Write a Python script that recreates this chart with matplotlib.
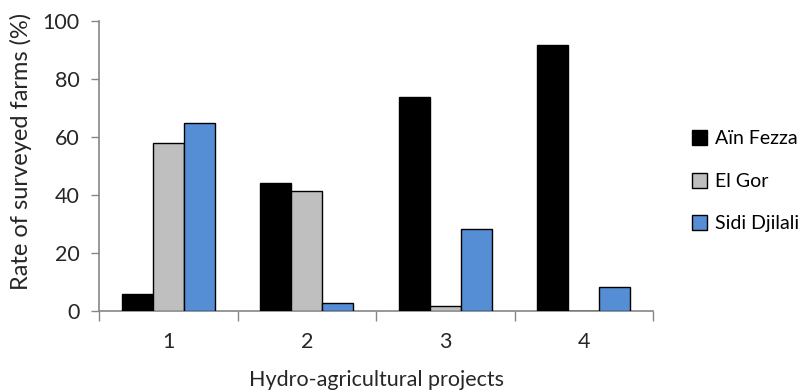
import matplotlib
matplotlib.use("Agg")
import matplotlib.pyplot as plt
from matplotlib.patches import Patch
import numpy as np

plt.rcParams['font.family'] = ['Lato', 'DejaVu Sans']

projects = ["1", "2", "3", "4"]
series_names = ["Aïn Fezza", "El Gor", "Sidi Djilali"]
ain_fezza = [6.0, 44.3, 73.8, 91.6]
el_gor = [58.1, 41.6, 1.8, 0.0]
sidi_djilali = [64.8, 3.0, 28.3, 8.5]
y_ticks = [0, 20, 40, 60, 80, 100]

colors = ["#000000", "#BFBFBF", "#558ED5"]
axis_grey = "#868686"
text_col = "#262626"

fig = plt.figure(figsize=(8.03, 3.90), dpi=100)
ax = fig.add_axes([0.1233, 0.2018, 0.690, 0.7442])

x = np.arange(len(projects))
w = 0.224
for i, (vals, col) in enumerate(zip([ain_fezza, el_gor, sidi_djilali], colors)):
    ax.bar(x + (i - 1) * w, vals, width=w, color=col, edgecolor="black",
           linewidth=1.0, zorder=3)

ax.set_xlim(-0.5, len(projects) - 0.5)
ax.set_ylim(0, 100)
ax.set_yticks(y_ticks)
ax.set_yticklabels([str(t) for t in y_ticks])

# category boundaries carry the tick marks, centres carry the labels
ax.set_xticks(np.arange(len(projects) + 1) - 0.5)
ax.set_xticklabels([])
ax.set_xticks(x, minor=True)
ax.set_xticklabels(projects, minor=True)
ax.tick_params(axis="x", which="major", length=7, width=1, color=axis_grey, direction="out")
ax.tick_params(axis="x", which="minor", length=0, pad=15, labelsize=15.5, colors=text_col)
ax.tick_params(axis="y", length=6, width=1, color=axis_grey, direction="out",
               labelsize=15.5, labelcolor=text_col, pad=8)

for s in ["top", "right"]:
    ax.spines[s].set_visible(False)
for s in ["left", "bottom"]:
    ax.spines[s].set_color(axis_grey)
    ax.spines[s].set_linewidth(1.2)

ax.set_xlabel("Hydro-agricultural projects", fontsize=15.5, color=text_col, labelpad=13)
ax.set_ylabel("Rate of surveyed farms (%)", fontsize=17, color=text_col)
ax.yaxis.set_label_coords(-0.121, 0.55)

handles = [Patch(facecolor=c, edgecolor="black", linewidth=1.0) for c in colors]
fig.legend(handles, series_names, loc="center left", bbox_to_anchor=(0.852, 0.535),
           frameon=False, fontsize=14, handlelength=0.8, handleheight=0.8,
           handletextpad=0.4, labelspacing=1.3, borderaxespad=0)

fig.savefig("out.png", dpi=100)
